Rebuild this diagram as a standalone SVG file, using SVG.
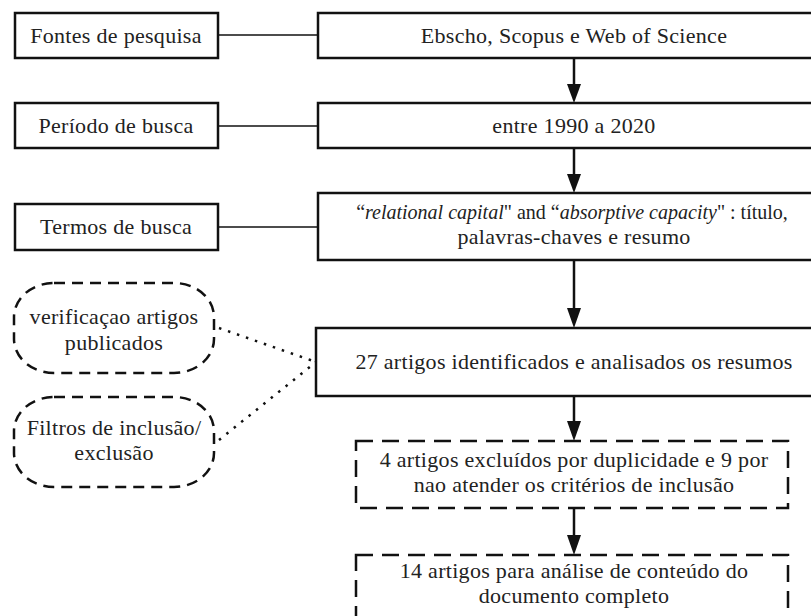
<svg xmlns="http://www.w3.org/2000/svg" width="811" height="616" viewBox="0 0 811 616">
<style>
text{font-family:"Liberation Serif","Times New Roman",serif;font-size:22px;fill:#222;text-anchor:middle;letter-spacing:0.3px}
.box{fill:#fff;stroke:#111;stroke-width:2.5}
.dbox{fill:#fff;stroke:#111;stroke-width:2.5;stroke-dasharray:17 9}
.rbox{fill:#fff;stroke:#111;stroke-width:2.5;stroke-dasharray:11 7}
.link{stroke:#111;stroke-width:1.5;fill:none}
.dot{stroke:#111;stroke-width:2.5;fill:none;stroke-dasharray:2.5 7}
.stem{stroke:#111;stroke-width:2.5;fill:none}
.head{fill:#111}
.it{font-style:italic}
</style>
<rect width="811" height="616" fill="#fff"/>
<g id="connectors">
<line class="link" x1="218" y1="35" x2="318" y2="35"/>
<line class="link" x1="218" y1="126" x2="318" y2="126"/>
<line class="link" x1="218" y1="227" x2="318" y2="227"/>
<line class="dot" x1="219" y1="328" x2="316" y2="362"/>
<line class="dot" x1="219" y1="440" x2="316" y2="362"/>
<line class="stem" x1="574" y1="58" x2="574" y2="84"/>
<path class="head" d="M567,84 L581,84 L574,103 Z"/>
<line class="stem" x1="574" y1="148" x2="574" y2="174"/>
<path class="head" d="M567,174 L581,174 L574,193 Z"/>
<line class="stem" x1="574" y1="260" x2="574" y2="308"/>
<path class="head" d="M567,308 L581,308 L574,328 Z"/>
<line class="stem" x1="574" y1="396" x2="574" y2="421"/>
<path class="head" d="M567,421 L581,421 L574,441 Z"/>
<line class="stem" x1="574" y1="508" x2="574" y2="535"/>
<path class="head" d="M567,535 L581,535 L574,555 Z"/>
</g>
<g id="fontes">
<rect class="box" x="15" y="13" width="203" height="45"/>
<text x="116" y="43">Fontes de pesquisa</text>
</g>
<g id="bases">
<rect class="box" x="318" y="13" width="520" height="45"/>
<text x="574" y="43">Ebscho, Scopus e Web of Science</text>
</g>
<g id="periodo">
<rect class="box" x="15" y="103" width="203" height="45"/>
<text x="116" y="133">Período de busca</text>
</g>
<g id="anos">
<rect class="box" x="318" y="103" width="520" height="45"/>
<text x="574" y="133">entre 1990 a 2020</text>
</g>
<g id="termos">
<rect class="box" x="15" y="204" width="203" height="46"/>
<text x="116" y="234">Termos de busca</text>
</g>
<g id="termos-desc">
<rect class="box" x="318" y="193" width="520" height="67"/>
<text transform="translate(572,219) scale(0.91,1)" x="0" y="0" style="letter-spacing:0">“<tspan class="it">relational capital</tspan>" and “<tspan class="it">absorptive capacity</tspan>" : título,</text>
<text x="574" y="244">palavras-chaves e resumo</text>
</g>
<g id="verificacao">
<rect class="rbox" x="14" y="283" width="200" height="90" rx="40" ry="34"/>
<text x="114" y="324">verificaçao artigos</text>
<text x="114" y="350">publicados</text>
</g>
<g id="filtros">
<rect class="rbox" x="14" y="397" width="200" height="90" rx="40" ry="34"/>
<text x="114" y="435">Filtros de inclusão/</text>
<text x="114" y="460">exclusão</text>
</g>
<g id="identificados">
<rect class="box" x="316" y="328" width="520" height="68"/>
<text x="574" y="369">27 artigos identificados e analisados os resumos</text>
</g>
<g id="excluidos">
<rect class="dbox" x="356" y="441" width="432" height="67"/>
<text x="574" y="467">4 artigos excluídos por duplicidade e 9 por</text>
<text x="574" y="492">nao atender os critérios de inclusão</text>
</g>
<g id="analise">
<rect class="dbox" x="356" y="555" width="432" height="70"/>
<text x="574" y="578">14 artigos para análise de conteúdo do</text>
<text x="574" y="603">documento completo</text>
</g>
</svg>
